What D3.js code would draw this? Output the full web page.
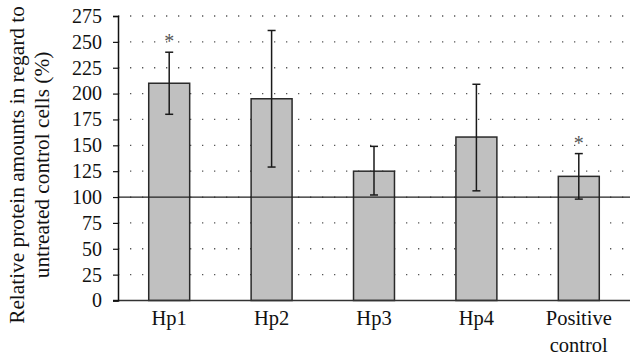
<!DOCTYPE html>
<html><head><meta charset="utf-8">
<script src="https://cdn.jsdelivr.net/npm/d3@7"></script>
<style>body{margin:0;background:#fff}svg{display:block}text{font-family:"Liberation Serif","Times New Roman",serif;fill:#111}</style>
</head><body><svg id="c" width="630" height="356"></svg>
<script>
const categories = ["Hp1","Hp2","Hp3","Hp4","Positive control"];
const values = [210, 195, 125, 158, 120];
const errLow = [180, 129, 102, 106, 98];
const errHigh = [240, 261, 149, 209, 142];
const significant = [true, false, false, false, true];
const yTicks = [0,25,50,75,100,125,150,175,200,225,250,275];
const referenceValue = 100;

const svg = d3.select("#c");
const m = {l:118, r:0, t:16, b:55.5};
const W = 630, H = 356;
const x = d3.scaleBand().domain(categories).range([m.l, W - m.r]).paddingInner(0.6).paddingOuter(0.3);
const y = d3.scaleLinear().domain([0, 275]).range([H - m.b, m.t]);

// dotted gridlines
svg.append("g").selectAll("line").data(yTicks.filter(d => d > 0)).join("line")
  .attr("x1", m.l).attr("x2", W).attr("y1", d => y(d)).attr("y2", d => y(d))
  .attr("stroke", "#555").attr("stroke-width", 1.3).attr("stroke-dasharray", "1.3,10.7");

// bars
svg.append("g").selectAll("rect").data(categories).join("rect")
  .attr("x", d => x(d)).attr("width", x.bandwidth())
  .attr("y", (d,i) => y(values[i])).attr("height", (d,i) => y(0) - y(values[i]))
  .attr("fill", "#c0c0c0").attr("stroke", "#2a2a2a").attr("stroke-width", 1.5);

// reference line
svg.append("line").attr("x1", m.l).attr("x2", W).attr("y1", y(referenceValue)).attr("y2", y(referenceValue))
  .attr("stroke", "#222").attr("stroke-width", 1.2);

// error bars
const eg = svg.append("g").attr("stroke", "#1a1a1a").attr("stroke-width", 1.5);
categories.forEach((c, i) => {
  const cx = x(c) + x.bandwidth() / 2;
  eg.append("line").attr("x1", cx).attr("x2", cx).attr("y1", y(errLow[i])).attr("y2", y(errHigh[i]));
  [errLow[i], errHigh[i]].forEach(v => eg.append("line").attr("x1", cx - 4).attr("x2", cx + 4).attr("y1", y(v)).attr("y2", y(v)));
  if (significant[i]) {
    svg.append("text").attr("x", cx).attr("y", y(errHigh[i]) - 4).attr("text-anchor", "middle")
      .attr("font-size", 20).style("fill", "#555").text("*");
  }
});

// baseline
svg.append("line").attr("x1", m.l - 5).attr("x2", W).attr("y1", y(0)).attr("y2", y(0))
  .attr("stroke", "#333").attr("stroke-width", 1.5);

// y axis
const ya = svg.append("g").attr("transform", `translate(${m.l},0)`)
  .call(d3.axisLeft(y).tickValues(yTicks).tickSize(5).tickPadding(11).tickFormat(d3.format("d")));
ya.select(".domain").attr("stroke", "#111").attr("stroke-width", 1.5);
ya.selectAll(".tick line").attr("stroke", "#111").attr("stroke-width", 1.2);
ya.selectAll(".tick text").attr("font-size", 20).attr("font-family", "Liberation Serif").style("fill", "#111");

// x labels
categories.forEach(c => {
  const cx = x(c) + x.bandwidth() / 2;
  const words = c === "Positive control" ? ["Positive", "control"] : [c];
  words.forEach((w, j) => svg.append("text").attr("x", cx).attr("y", 325 + j * 26.5)
    .attr("text-anchor", "middle").attr("font-size", 20.5).text(w));
});

// y label
const yl = svg.append("text").attr("transform", "translate(0,165) rotate(-90)").attr("text-anchor", "middle").attr("font-size", 21.3);
yl.append("tspan").attr("x", 0).attr("y", 24).text("Relative protein amounts in regard to");
yl.append("tspan").attr("x", 0).attr("y", 49).text("untreated control cells (%)");
</script></body></html>
